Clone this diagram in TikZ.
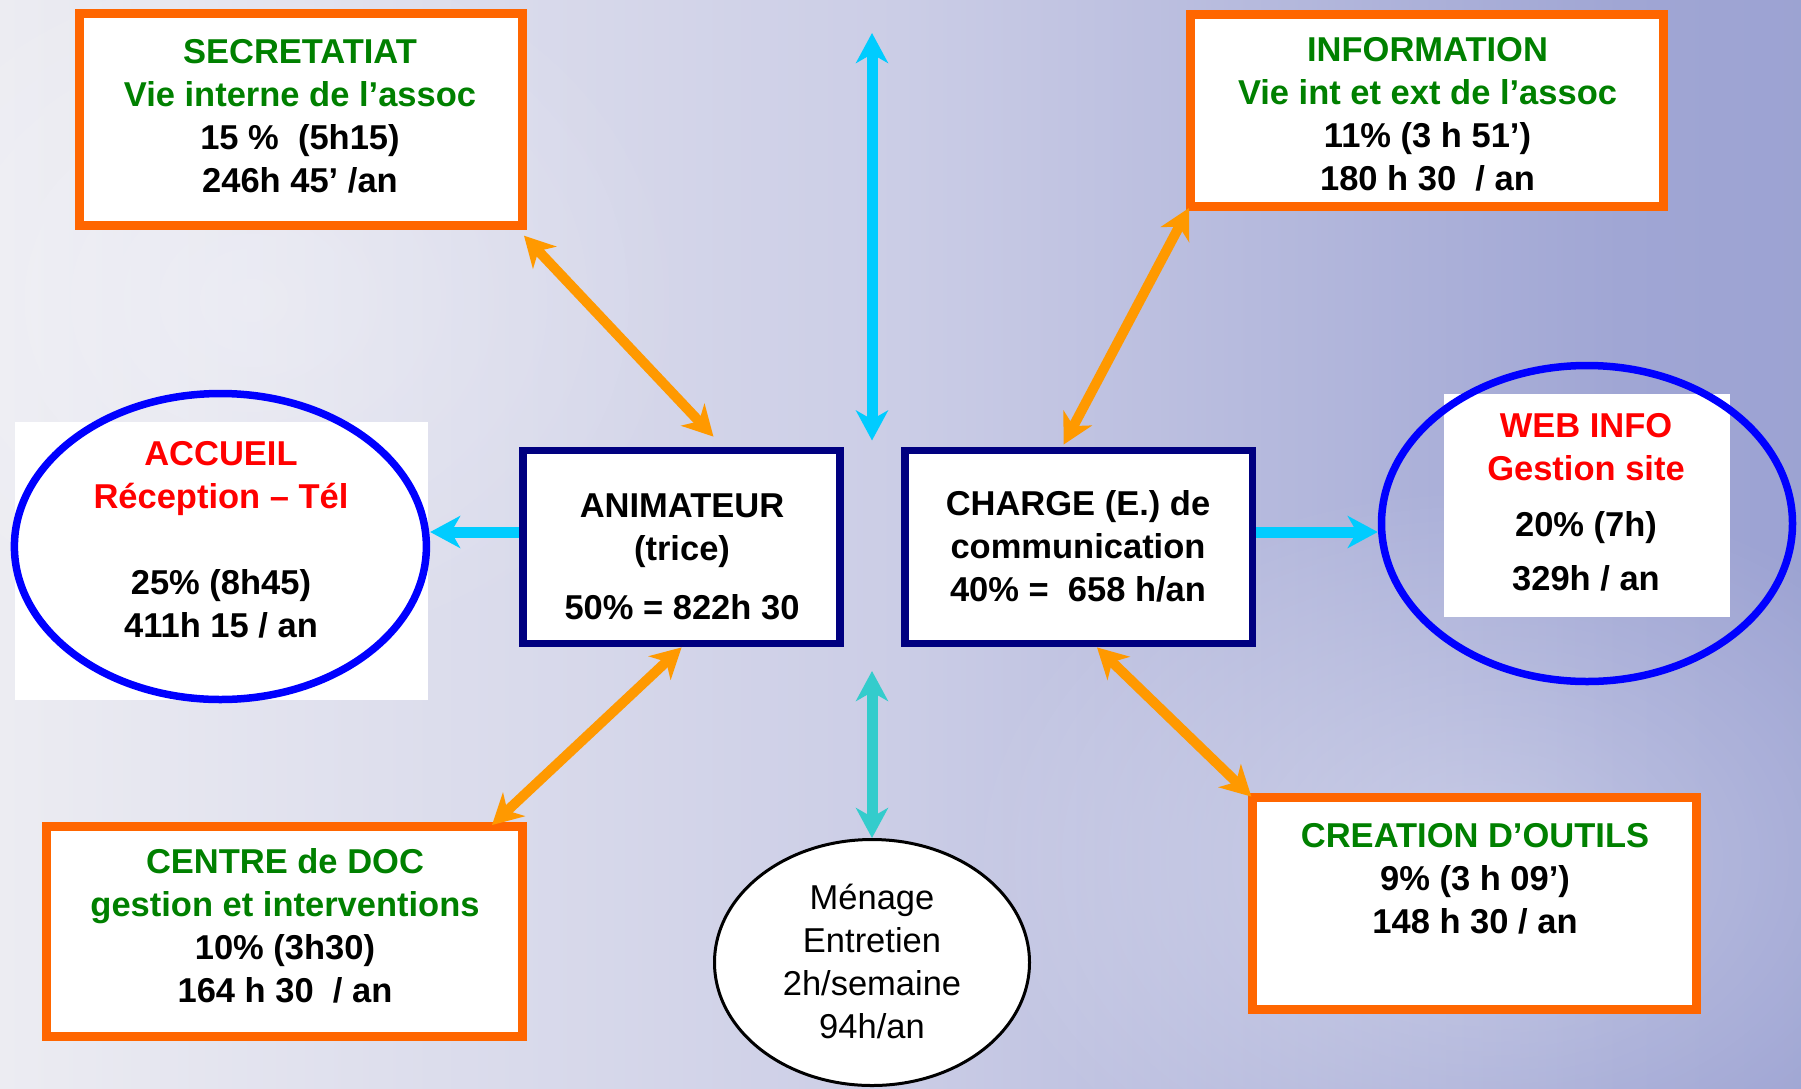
\documentclass[tikz,border=0pt]{standalone}
\usepackage{fontspec}
\setmainfont{Liberation Sans}
\usetikzlibrary{arrows.meta,calc,shapes.geometric,fadings}
\tikzfading[name=myfade, inner color=transparent!0, outer color=transparent!100]
\definecolor{bgA}{HTML}{F4F4F7}
\definecolor{bgB}{HTML}{ECECF2}
\definecolor{bgC}{HTML}{CBCDE6}
\definecolor{bgD}{HTML}{A0A6D4}
\definecolor{bgE}{HTML}{8A91CA}
\definecolor{grn}{HTML}{008000}
\definecolor{rd}{HTML}{FF0000}
\definecolor{boxor}{HTML}{FF6600}
\definecolor{arror}{HTML}{FF9900}
\definecolor{navy}{HTML}{000080}
\definecolor{blu}{HTML}{0000FF}
\definecolor{cyn}{HTML}{00CCFF}
\definecolor{turq}{HTML}{33CCCC}
\pgfdeclarehorizontalshading{bgsh}{100bp}{color(0bp)=(bgA); color(25bp)=(bgB); color(50bp)=(bgC); color(70bp)=(bgD); color(100bp)=(bgE)}
\tikzset{
  obox/.style={rectangle, draw=boxor, fill=white, line width=9pt, inner sep=0pt},
  nbox/.style={rectangle, draw=navy, fill=white, line width=7.5pt, inner sep=0pt},
  bell/.style={ellipse, draw=blu, line width=7.5pt, inner sep=0pt},
  wrect/.style={rectangle, fill=white, inner sep=0pt, anchor=north west},
  txt/.style={inner sep=0pt, anchor=base, align=center, font=\fontsize{34.5}{43}\selectfont\bfseries},
  txtn/.style={inner sep=0pt, anchor=base, align=center, font=\fontsize{34.5}{43}\selectfont},
  >={Stealth[length=30pt,width=32pt,inset=9pt]},
  oarr/.style={draw=arror, line width=10pt, <->},
  carr/.style={draw=cyn, line width=11pt},
  tarr/.style={draw=turq, line width=11pt, <->}
}
\begin{document}
\begin{tikzpicture}[x=1pt,y=-1pt]
\useasboundingbox (0,0) rectangle (1801,1088);
\shade[shading=bgsh] (0,0) rectangle (1801,1088);
\fill[white, fill opacity=0.35, path fading=myfade] (1480,860) ellipse [x radius=520, y radius=380];
\fill[white, fill opacity=0.3, path fading=myfade] (250,300) ellipse [x radius=450, y radius=380];

% white backgrounds behind ellipses
\node[wrect, minimum width=413.6pt, minimum height=278.4pt] (accbg) at (14.4,421.6) {};
\node[wrect, minimum width=286pt, minimum height=223pt] (webbg) at (1444,394) {};

% ellipses
\node[bell, minimum width=412pt, minimum height=306pt] (acc) at (220.4,546.5) {};
\node[bell, minimum width=411pt, minimum height=316pt] (web) at (1587,523.5) {};
\node[ellipse, draw=black, fill=white, line width=3pt, inner sep=0pt, minimum width=315pt, minimum height=246pt] (men) at (872,962.5) {};

% boxes
\node[obox, minimum width=443.4pt, minimum height=211.3pt] (sec) at (300.8,119.55) {};
\node[obox, minimum width=473pt, minimum height=191.6pt] (info) at (1427,110.7) {};
\node[obox, minimum width=476pt, minimum height=210.4pt] (doc) at (284.5,931.3) {};
\node[obox, minimum width=443.3pt, minimum height=212pt] (crea) at (1474.5,903.5) {};
\node[nbox, minimum width=316.8pt, minimum height=193.3pt] (anim) at (681.6,547) {};
\node[nbox, minimum width=347.5pt, minimum height=193.3pt] (charge) at (1078.5,547) {};

% free ends
\coordinate (vt1) at (872,33);
\coordinate (vt2) at (872,440.5);
\coordinate (vb1) at (872,671);

% connectors
\draw[carr, <->] (vt1) -- (vt2);
\draw[tarr] (vb1) -- (men.north);
\draw[carr, ->] ($(anim.west)+(0,-15)$) -- ($(acc.east)+(0,-14.5)$);
\draw[carr, ->] ($(charge.east)+(0,-15)$) -- ($(web.west)+(0,8.5)$);
\draw[oarr] ($(sec.south east)+(-3,6)$) -- ($(anim.north west)+(194,-10)$);
\draw[oarr] ($(info.south west)+(3,-3)$) -- ($(charge.north west)+(162.6,-2)$);
\draw[oarr] (anim.south) -- ($(doc.north east)+(-35,3.4)$);
\draw[oarr] ($(charge.south west)+(196,0)$) -- ($(crea.north west)+(3,3.6)$);

% texts (anchor = baseline of the last line)
\node[txt] (sect) at (300,192) {\textcolor{grn}{SECRETATIAT}\\\textcolor{grn}{Vie interne de l’assoc}\\15 \%\ \ (5h15)\\246h 45’ /an};
\node[txt] (infot) at (1427.5,190) {\textcolor{grn}{INFORMATION}\\\textcolor{grn}{Vie int et ext de l’assoc}\\11\% (3 h 51’)\\180 h 30\ \ / an};
\node[txt] (acct) at (221,637) {\textcolor{rd}{ACCUEIL}\\\textcolor{rd}{Réception – Tél}\\[43pt]25\% (8h45)\\411h 15 / an};
\node[txt] (animt) at (682,619.6) {ANIMATEUR\\(trice)\\[16.6pt]50\% = 822h 30};
\node[txt] (charget) at (1078,601) {CHARGE (E.) de\\communication\\40\% =\ \ 658 h/an};
\node[txt] (webt) at (1586,590.7) {\textcolor{rd}{WEB INFO}\\\textcolor{rd}{Gestion site}\\[13pt]20\% (7h)\\[11pt]329h / an};
\node[txt] (doct) at (285,1002) {\textcolor{grn}{CENTRE de DOC}\\\textcolor{grn}{gestion et interventions}\\10\% (3h30)\\164 h 30\ \ / an};
\node[txt] (creat) at (1475,933) {\textcolor{grn}{CREATION D’OUTILS}\\9\% (3 h 09’)\\148 h 30 / an};
\node[txtn] (ment) at (872,1038.5) {Ménage\\Entretien\\2h/semaine\\94h/an};
\end{tikzpicture}
\end{document}
